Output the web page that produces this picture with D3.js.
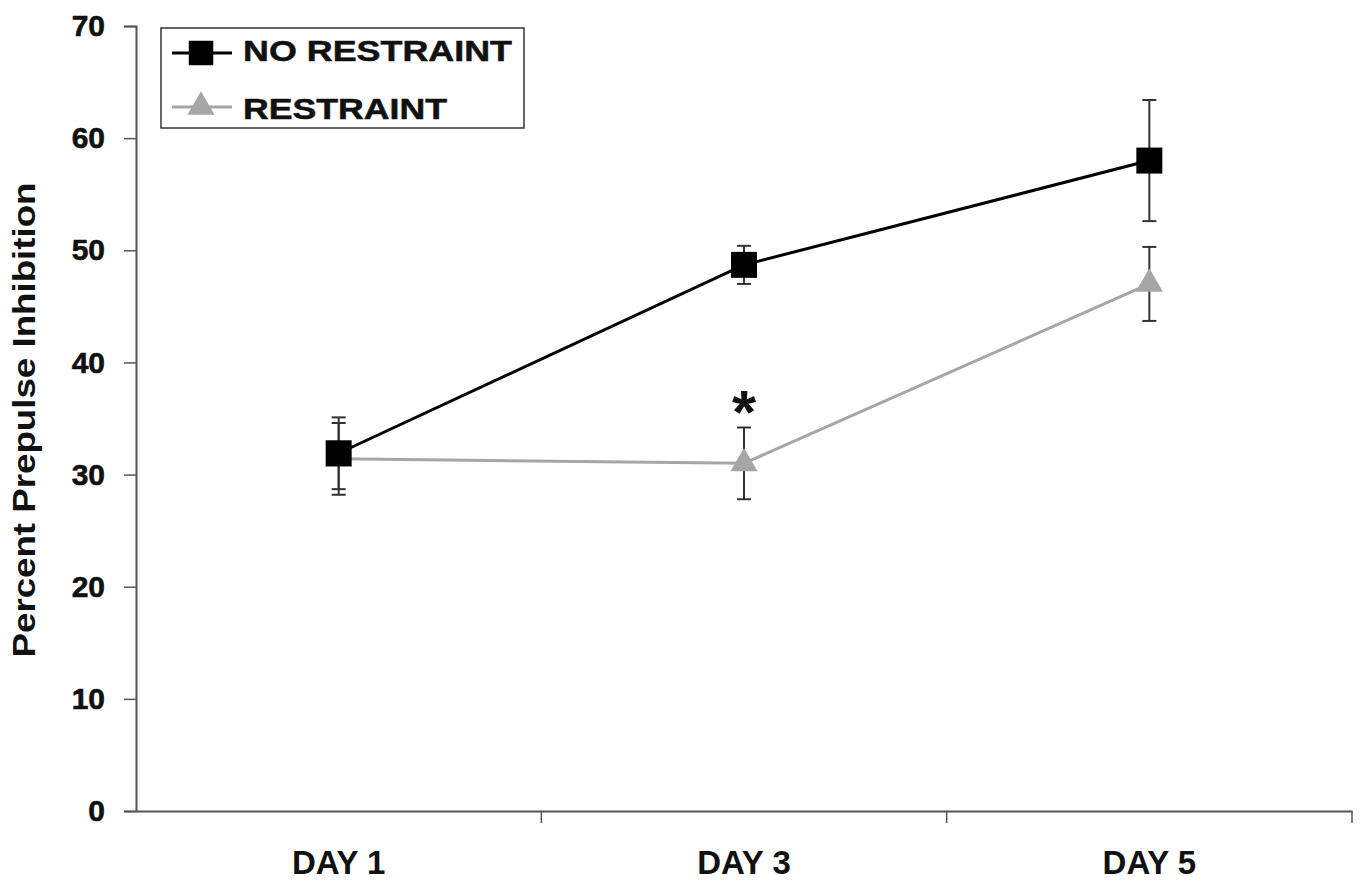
<!DOCTYPE html>
<html><head><meta charset="utf-8">
<script src="https://cdn.jsdelivr.net/npm/d3@7"></script>
<style>body{margin:0;background:#fff}svg{display:block}</style>
</head><body><svg id="c" width="1361" height="882"></svg>
<script>
const categories = ["DAY 1", "DAY 3", "DAY 5"];
const seriesNames = ["NO RESTRAINT", "RESTRAINT"];
const noRestraint = [31.9, 48.7, 58.0];
const noRestraintErr = [3.2, 1.7, 5.4];
const restraint = [31.4, 31.0, 47.0];
const restraintErr = [3.2, 3.2, 3.3];
const yTicks = [0, 10, 20, 30, 40, 50, 60, 70];
const sigMarks = [{cat: "DAY 3", text: "*"}];

const FONT = "Liberation Sans, Arial, Helvetica, sans-serif";
const svg = d3.select("#c");
const m = {left: 136, right: 1352, top: 26, bottom: 811};
const x = d3.scaleBand().domain(categories).range([m.left, m.right]);
const y = d3.scaleLinear().domain([0, 70]).range([m.bottom, m.top]);
const cx = c => x(c) + x.bandwidth() / 2;

// axes
const ya = svg.append("g").attr("transform", `translate(${m.left},0)`)
  .call(d3.axisLeft(y).tickValues(yTicks).tickSize(12).tickPadding(19));
ya.select(".domain").attr("stroke", "#555").attr("stroke-width", 2);
ya.selectAll(".tick line").attr("stroke", "#555").attr("stroke-width", 1.5);
ya.selectAll("text").attr("font-family", FONT)
  .attr("font-weight", "900").attr("font-size", 30).attr("fill", "#111")
  .attr("stroke", "#111").attr("stroke-width", 0.6);

const xa = svg.append("g").attr("transform", `translate(0,${m.bottom})`)
  .call(d3.axisBottom(x).tickSize(0).tickPadding(40));
xa.select(".domain").attr("stroke", "#555").attr("stroke-width", 2);
xa.selectAll("text").attr("font-family", FONT)
  .attr("font-weight", "bold").attr("font-size", 33).attr("fill", "#111");
const bounds = categories.slice(1).map(c => x(c)).concat([m.right]);
xa.selectAll(".btick").data(bounds).enter().append("line")
  .attr("x1", d => d).attr("x2", d => d)
  .attr("y1", 0).attr("y2", 12).attr("stroke", "#555").attr("stroke-width", 1.5);

svg.append("text").attr("transform", `translate(35,${420}) rotate(-90)`)
  .attr("text-anchor", "middle").attr("font-family", FONT)
  .attr("font-weight", "bold").attr("font-size", 32).attr("fill", "#111")
  .attr("textLength", 475).attr("lengthAdjust", "spacingAndGlyphs")
  .text("Percent Prepulse Inhibition");

const series = [
  {name: seriesNames[0], vals: noRestraint, err: noRestraintErr, color: "#000", shape: d3.symbolSquare, size: 676, lsize: 600, tl: 269},
  {name: seriesNames[1], vals: restraint, err: restraintErr, color: "#a6a6a6", shape: d3.symbolTriangle, size: 320, lsize: 320, tl: 204}
];

const line = d3.line().x((d, i) => cx(categories[i])).y(d => y(d));

[series[1], series[0]].forEach(s => {
  const g = svg.append("g");
  s.vals.forEach((v, i) => {
    const px = cx(categories[i]);
    g.append("line").attr("x1", px).attr("x2", px).attr("y1", y(v + s.err[i])).attr("y2", y(v - s.err[i]))
      .attr("stroke", "#333").attr("stroke-width", 2);
    [v + s.err[i], v - s.err[i]].forEach(e => {
      g.append("line").attr("x1", px - 7).attr("x2", px + 7).attr("y1", y(e)).attr("y2", y(e))
        .attr("stroke", "#333").attr("stroke-width", 2);
    });
  });
  g.append("path").attr("d", line(s.vals)).attr("fill", "none").attr("stroke", s.color).attr("stroke-width", 3);
  s.vals.forEach((v, i) => {
    g.append("path").attr("d", d3.symbol().type(s.shape).size(s.size)())
      .attr("transform", `translate(${cx(categories[i])},${y(v)})`)
      .attr("fill", s.color);
  });
});

sigMarks.forEach(sm => {
  svg.append("text").attr("x", cx(sm.cat)).attr("y", 433).attr("text-anchor", "middle")
    .attr("font-family", FONT).attr("font-weight", "bold")
    .attr("font-size", 62).attr("fill", "#111").text(sm.text);
});

// legend
const lg = svg.append("g");
lg.append("rect").attr("x", 161).attr("y", 28).attr("width", 363).attr("height", 100)
  .attr("fill", "#fff").attr("stroke", "#333").attr("stroke-width", 1.5);
const legRows = [{my: 53, ty: 61}, {my: 107, ty: 119}];
series.forEach((s, i) => {
  const r = legRows[i];
  lg.append("line").attr("x1", 172).attr("x2", 232).attr("y1", r.my).attr("y2", r.my)
    .attr("stroke", s.color).attr("stroke-width", 3);
  lg.append("path").attr("d", d3.symbol().type(s.shape).size(s.lsize)())
    .attr("transform", `translate(201,${r.my})`).attr("fill", s.color);
  lg.append("text").attr("x", 243).attr("y", r.ty).attr("font-family", FONT)
    .attr("font-weight", "bold").attr("font-size", 30).attr("fill", "#111")
    .attr("stroke", "#111").attr("stroke-width", 0.5)
    .attr("textLength", s.tl).attr("lengthAdjust", "spacingAndGlyphs").text(s.name);
});
</script></body></html>
